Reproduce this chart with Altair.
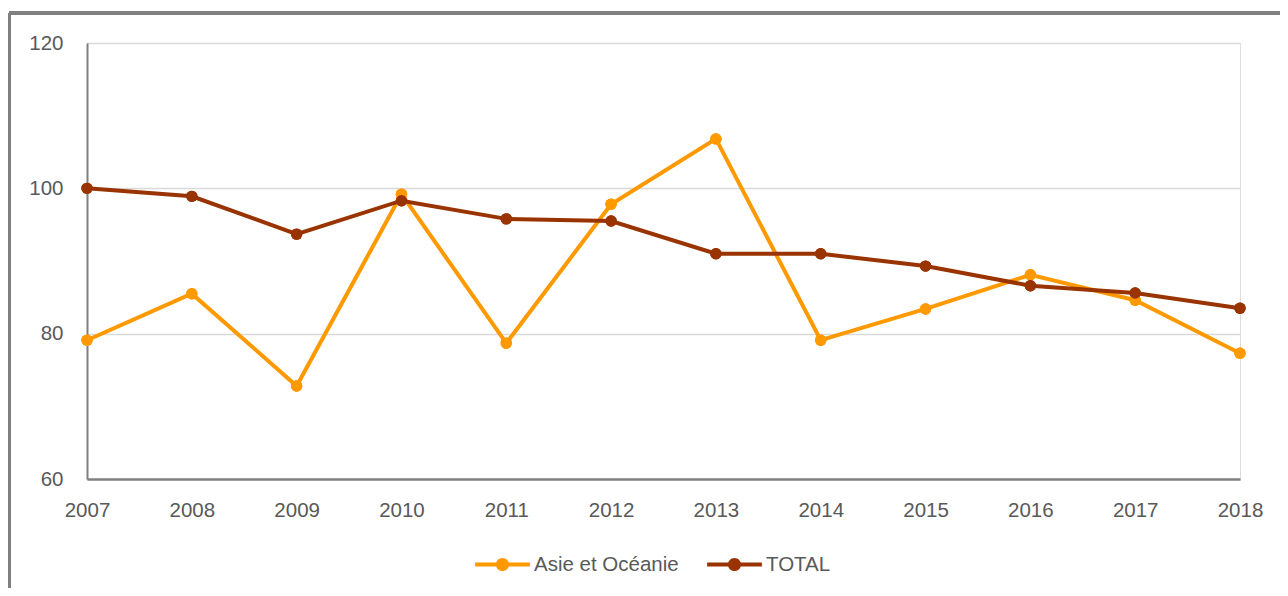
import altair as alt
import pandas as pd

years = [2007, 2008, 2009, 2010, 2011, 2012, 2013, 2014, 2015, 2016, 2017, 2018]
asie = [79.1, 85.5, 72.8, 99.2, 78.7, 97.8, 106.8, 79.1, 83.4, 88.1, 84.6, 77.3]
total = [100.0, 98.9, 93.7, 98.3, 95.8, 95.5, 91.0, 91.0, 89.3, 86.6, 85.6, 83.5]
series_names = ["Asie et Océanie", "TOTAL"]
series_colors = ["#FF9900", "#993300"]

rows = []
for y, a, t in zip(years, asie, total):
    rows.append({"year": str(y), "series": series_names[0], "value": a})
    rows.append({"year": str(y), "series": series_names[1], "value": t})
df = pd.DataFrame(rows)

FONT = "Liberation Sans"
FS = 20.5
W, H = 1153, 436

legend = alt.Legend(
    title=None,
    orient="none",
    legendX=388,
    legendY=494,
    direction="horizontal",
    symbolType=(
        "M-1,-0.075L-0.2,-0.075L-0.2,0.075L-1,0.075Z "
        "M0.2,-0.075L1,-0.075L1,0.075L0.2,0.075Z "
        "M-0.24,0A0.24,0.24 0 1,1 0.24,0A0.24,0.24 0 1,1 -0.24,0Z"
    ),
    symbolSize=3000,
    symbolStrokeWidth=0,
    labelFont=FONT,
    labelFontSize=FS,
    labelColor="#595959",
    columnPadding=28,
    labelOffset=4,
)

scale = alt.Scale(domain=series_names, range=series_colors)

x = alt.X(
    "year:O",
    scale=alt.Scale(padding=0),
    axis=alt.Axis(
        title=None,
        labelAngle=0,
        ticks=False,
        labelPadding=21,
        labelFont=FONT,
        labelFontSize=FS,
        labelColor="#595959",
        domainColor="#808080",
        domainWidth=2.5,
        grid=False,
    ),
)
y = alt.Y(
    "value:Q",
    scale=alt.Scale(domain=[60, 120], nice=False, zero=False),
    axis=alt.Axis(
        title=None,
        values=[60, 80, 100, 120],
        ticks=False,
        labelPadding=24,
        labelFont=FONT,
        labelFontSize=FS,
        labelColor="#595959",
        domainColor="#808080",
        domainWidth=2,
        gridColor="#D9D9D9",
        gridWidth=1.5,
    ),
)

points_legend = alt.Chart(df).mark_circle(size=130, opacity=1).encode(
    x=x, y=y, color=alt.Color("series:N", scale=scale, legend=legend)
)
lines = alt.Chart(df).mark_line(strokeWidth=4).encode(
    x=x, y=y, color=alt.Color("series:N", scale=scale, legend=None),
    order=alt.Order("year:O"),
)
points = alt.Chart(df).mark_circle(size=130, opacity=1).encode(
    x=x, y=y, color=alt.Color("series:N", scale=scale, legend=None)
)

frame_top = alt.Chart(df).mark_rule(color="#808080", strokeWidth=2.5).encode(
    x=alt.value(-78), x2=alt.value(1220), y=alt.value(-30)
)
frame_left = alt.Chart(df).mark_rule(color="#808080", strokeWidth=2.5).encode(
    x=alt.value(-78), y=alt.value(-30), y2=alt.value(560)
)

chart = (
    alt.layer(points_legend, lines, points, frame_top, frame_left)
    .properties(
        width=W,
        height=H,
        autosize=alt.AutoSizeParams(type="none"),
        padding={"left": 79, "top": 35, "right": 40, "bottom": 109},
    )
    .configure_view(stroke=None)
    .configure(background="white")
)

chart.save("out.html", embed_options={"renderer": "svg", "actions": False})
